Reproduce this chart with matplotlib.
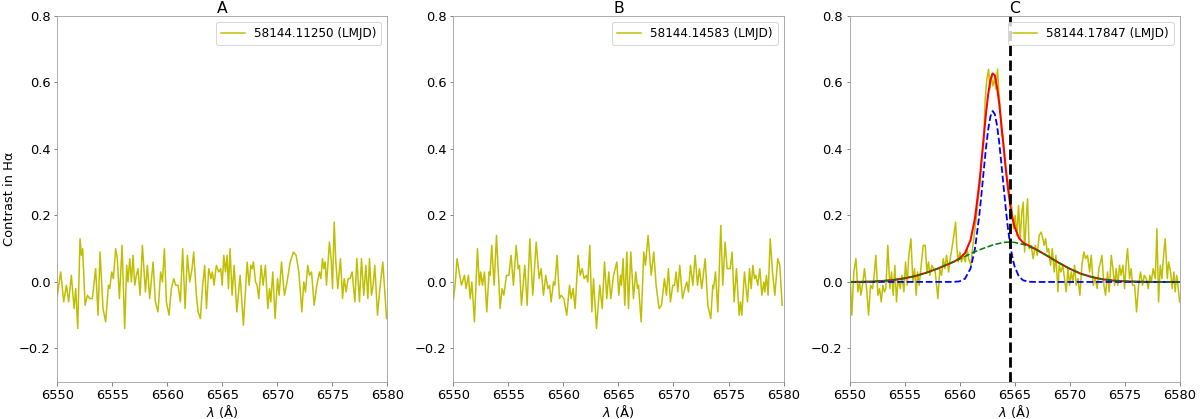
import numpy as np
import matplotlib
matplotlib.use("Agg")
import matplotlib.pyplot as plt

plt.rcParams['font.family'] = ['DejaVu Sans']
plt.rcParams['font.size'] = 13

# ---- observation A ----
wl_a = [6550.00, 6550.30, 6550.58, 6550.82, 6551.03, 6551.27, 6551.52, 6551.67, 6551.85, 6552.06,
        6552.18, 6552.30, 6552.52, 6552.73, 6552.94, 6553.18, 6553.48, 6553.70, 6553.88, 6554.15,
        6554.39, 6554.64, 6554.76, 6554.94, 6555.09, 6555.30, 6555.45, 6555.64, 6555.88, 6556.12,
        6556.30, 6556.42, 6556.58, 6556.73, 6556.88, 6557.03, 6557.18, 6557.33, 6557.52, 6557.73,
        6558.00, 6558.18, 6558.39, 6558.70, 6558.91, 6559.15, 6559.39, 6559.55, 6559.73, 6559.91,
        6560.15, 6560.36, 6560.58, 6560.76, 6560.97, 6561.18, 6561.39, 6561.61, 6561.82, 6562.03,
        6562.24, 6562.39, 6562.64, 6562.79, 6563.00, 6563.18, 6563.39, 6563.55, 6563.76, 6563.97,
        6564.09, 6564.24, 6564.45, 6564.67,
        6564.85, 6564.98, 6565.13, 6565.28, 6565.43, 6565.55, 6565.70, 6565.88, 6566.07, 6566.31,
        6566.61, 6566.91, 6567.25, 6567.43, 6567.58, 6567.70, 6567.82, 6568.01, 6568.16, 6568.31,
        6568.52, 6568.70, 6568.91, 6569.13, 6569.28, 6569.40, 6569.58, 6569.79, 6570.01, 6570.16,
        6570.37, 6570.64, 6570.88, 6571.16, 6571.46, 6571.70, 6571.95, 6572.22, 6572.40, 6572.55,
        6572.76, 6572.91, 6573.10, 6573.34, 6573.58, 6573.82, 6573.95, 6574.10, 6574.22, 6574.34,
        6574.46, 6574.73, 6574.88, 6575.01, 6575.16, 6575.31, 6575.49, 6575.73, 6575.92, 6576.07,
        6576.25, 6576.43, 6576.61, 6576.79, 6577.04, 6577.22, 6577.46, 6577.64, 6577.85, 6578.04,
        6578.22, 6578.37, 6578.55, 6578.70, 6578.85, 6579.10, 6579.28, 6579.58, 6579.92]
flux_a = [-0.04, 0.03, -0.06, -0.01, -0.06, 0.02, -0.08, -0.02, -0.14, 0.13,
          0.08, 0.10, -0.07, -0.04, -0.05, -0.05, 0.04, -0.10, 0.09, -0.08,
          -0.12, -0.01, -0.02, 0.03, 0.01, 0.10, 0.07, -0.05, 0.11, -0.14,
          0.05, 0.00, 0.07, 0.00, 0.08, -0.01, 0.02, 0.04, -0.04, 0.11,
          -0.03, 0.05, -0.05, 0.06, -0.06, -0.09, 0.03, 0.00, 0.10, -0.06,
          -0.10, -0.02, 0.01, -0.01, -0.01, -0.06, 0.10, -0.08, 0.08, 0.00,
          0.04, 0.09, -0.04, -0.09, -0.11, -0.02, 0.05, -0.08, 0.04, 0.01,
          0.03, -0.01, 0.05, 0.03,
          0.04, -0.01, 0.08, 0.03, 0.08, -0.02, 0.10, -0.04, 0.05, -0.09,
          0.02, -0.13, 0.06, -0.01, 0.05, 0.04, 0.06, 0.00, -0.01, -0.05,
          0.05, -0.01, 0.05, -0.08, -0.02, -0.06, 0.03, -0.11, 0.01, -0.04,
          0.06, -0.04, 0.00, 0.06, 0.09, 0.08, 0.03, -0.09, 0.00, -0.03,
          0.05, 0.02, 0.03, -0.07, -0.01, 0.03, 0.01, 0.07, 0.04, 0.06,
          -0.01, 0.12, 0.07, -0.02, 0.18, 0.06, -0.02, 0.07, -0.05, 0.01,
          -0.03, 0.01, 0.01, 0.03, -0.06, 0.07, -0.06, 0.07, -0.04, 0.05,
          -0.05, 0.07, -0.04, -0.01, 0.05, -0.10, -0.03, 0.06, -0.11]

# ---- observation B ----
wl_b = [6550.00, 6550.15, 6550.33, 6550.52, 6550.73, 6551.00, 6551.15, 6551.36, 6551.52, 6551.67,
        6551.91, 6552.18, 6552.36, 6552.48, 6552.64, 6552.82, 6553.03, 6553.24, 6553.33, 6553.48,
        6553.70, 6553.91, 6554.24, 6554.42, 6554.58, 6554.82, 6555.03, 6555.24, 6555.45, 6555.70,
        6555.88, 6556.00, 6556.18, 6556.48, 6556.70, 6556.94, 6557.21, 6557.52, 6557.79, 6557.97,
        6558.18, 6558.39, 6558.58, 6558.73, 6558.88, 6559.09, 6559.21, 6559.42, 6559.64, 6559.79,
        6560.03, 6560.30, 6560.55, 6560.70, 6560.88, 6561.06, 6561.33, 6561.52, 6561.70, 6561.88,
        6562.09, 6562.21, 6562.39, 6562.58, 6562.73, 6563.00, 6563.30, 6563.52, 6563.73, 6563.94,
        6564.12, 6564.30, 6564.55,
        6564.85, 6565.03, 6565.18, 6565.27, 6565.42, 6565.57, 6565.76, 6565.91, 6566.12, 6566.36,
        6566.57, 6566.73, 6566.82, 6567.06, 6567.30, 6567.45, 6567.69, 6567.97, 6568.21, 6568.42,
        6568.69, 6568.91, 6569.18, 6569.36, 6569.54, 6569.72, 6569.94, 6570.09, 6570.24, 6570.39,
        6570.57, 6570.82, 6571.03, 6571.21, 6571.36, 6571.54, 6571.76, 6571.97, 6572.18, 6572.36,
        6572.57, 6572.88, 6573.12, 6573.39, 6573.57, 6573.63, 6573.82, 6574.03, 6574.30, 6574.48,
        6574.69, 6574.88, 6575.15, 6575.33, 6575.51, 6575.72, 6575.97, 6576.09, 6576.21, 6576.45,
        6576.73, 6576.91, 6577.06, 6577.21, 6577.36, 6577.48, 6577.66, 6577.85, 6578.03, 6578.21,
        6578.30, 6578.45, 6578.60, 6578.79, 6579.00, 6579.21, 6579.48, 6579.66, 6579.88]
flux_b = [-0.05, -0.01, 0.07, 0.03, -0.01, 0.02, -0.02, 0.02, -0.05, 0.00,
          -0.12, 0.10, -0.01, 0.03, -0.01, 0.03, -0.09, 0.03, 0.02, 0.11,
          -0.01, 0.14, -0.08, -0.02, -0.04, 0.02, 0.02, 0.08, -0.01, 0.11,
          0.04, 0.05, -0.07, 0.05, -0.07, 0.13, -0.04, 0.12, 0.01, 0.04,
          -0.04, 0.02, -0.02, -0.01, -0.06, 0.00, -0.01, 0.08, -0.05, -0.04,
          -0.05, -0.10, -0.01, -0.05, -0.02, -0.08, 0.08, 0.02, 0.04, 0.01,
          0.02, 0.00, 0.11, -0.09, 0.01, -0.14, -0.01, -0.08, 0.06, -0.05,
          0.03, -0.05, 0.02,
          0.06, -0.04, 0.02, -0.01, 0.07, -0.07, 0.09, -0.08, 0.09, -0.05,
          0.03, -0.02, -0.01, -0.12, 0.09, 0.05, 0.14, 0.02, 0.09, -0.01,
          -0.08, -0.07, 0.01, -0.04, 0.04, -0.06, -0.01, -0.01, 0.03, -0.03,
          0.05, -0.05, -0.02, 0.00, -0.03, 0.05, -0.01, 0.08, -0.01, 0.04,
          -0.02, 0.07, -0.07, -0.11, -0.01, -0.02, 0.03, -0.09, 0.17, -0.01,
          0.12, 0.04, 0.04, 0.09, -0.06, 0.04, -0.10, -0.06, -0.10, 0.03,
          -0.06, 0.04, -0.02, 0.05, 0.01, 0.02, -0.01, 0.04, -0.04, 0.00,
          -0.03, 0.02, -0.04, 0.13, 0.03, -0.04, 0.07, 0.05, -0.07]

# ---- observation C ----
wl_c = [6550.03, 6550.21, 6550.39, 6550.58, 6550.76, 6550.91, 6551.03, 6551.18, 6551.36, 6551.55,
        6551.73, 6551.91, 6552.09, 6552.24, 6552.39, 6552.58, 6552.73, 6552.88, 6553.03, 6553.18,
        6553.30, 6553.48, 6553.67, 6553.82, 6553.97, 6554.12, 6554.27, 6554.42, 6554.61, 6554.76,
        6554.94, 6555.09, 6555.24, 6555.39, 6555.58, 6555.76, 6555.91, 6556.06, 6556.18, 6556.33,
        6556.48, 6556.70, 6556.88, 6557.03, 6557.18, 6557.30, 6557.48, 6557.64, 6557.79, 6557.94,
        6558.03, 6558.21, 6558.36, 6558.52, 6558.67, 6558.82, 6559.00, 6559.15, 6559.30, 6559.48,
        6559.64, 6559.76, 6559.88, 6560.03, 6560.18, 6560.33, 6560.52, 6560.67, 6560.82, 6561.03,
        6561.18, 6561.36, 6561.55, 6561.73, 6561.88, 6562.03, 6562.18, 6562.33, 6562.48, 6562.64,
        6562.76, 6562.88, 6563.03, 6563.18, 6563.30, 6563.45, 6563.58, 6563.70, 6563.82, 6563.94,
        6564.09, 6564.27, 6564.42, 6564.55,
        6564.76, 6564.91, 6565.06, 6565.21, 6565.36, 6565.51, 6565.66, 6565.79, 6565.91, 6566.06,
        6566.18, 6566.33, 6566.51, 6566.69, 6566.88, 6567.06, 6567.24, 6567.42, 6567.57, 6567.69,
        6567.82, 6567.97, 6568.09, 6568.27, 6568.42, 6568.60, 6568.76, 6568.94, 6569.06, 6569.21,
        6569.39, 6569.54, 6569.69, 6569.85, 6570.00, 6570.15, 6570.30, 6570.45, 6570.60, 6570.76,
        6570.94, 6571.12, 6571.30, 6571.45, 6571.63, 6571.82, 6571.97, 6572.15, 6572.33, 6572.51,
        6572.66, 6572.82, 6572.94, 6573.12, 6573.27, 6573.45, 6573.60, 6573.79, 6573.94, 6574.09,
        6574.24, 6574.39, 6574.54, 6574.69, 6574.85, 6575.00, 6575.15, 6575.27, 6575.45, 6575.60,
        6575.72, 6575.91, 6576.09, 6576.27, 6576.45, 6576.63, 6576.79, 6576.97, 6577.15, 6577.30,
        6577.42, 6577.60, 6577.79, 6577.94, 6578.09, 6578.24, 6578.39, 6578.57, 6578.69, 6578.88,
        6579.00, 6579.18, 6579.33, 6579.48, 6579.60, 6579.73, 6579.85, 6580.00]
flux_c = [0.04, -0.10, 0.03, 0.07, -0.03, 0.00, -0.04, -0.01, 0.04, -0.02,
          -0.10, -0.01, -0.02, 0.02, 0.08, -0.04, -0.02, -0.06, -0.01, -0.03,
          -0.02, 0.11, -0.02, 0.03, -0.04, 0.05, -0.06, 0.01, -0.02, 0.02,
          -0.03, 0.06, -0.01, 0.08, 0.13, 0.00, 0.04, -0.04, 0.03, -0.01,
          0.04, 0.11, 0.11, 0.03, 0.06, 0.02, 0.05, 0.04, 0.03, -0.02,
          -0.05, 0.04, 0.02, 0.07, 0.04, 0.08, 0.03, 0.07, 0.10, 0.14,
          0.18, 0.10, 0.06, 0.09, 0.06, 0.08, 0.06, 0.10, 0.07, 0.05,
          0.10, 0.15, 0.20, 0.26, 0.30, 0.38, 0.41, 0.55, 0.61, 0.64,
          0.58, 0.62, 0.59, 0.61, 0.58, 0.64, 0.57, 0.52, 0.44, 0.44,
          0.38, 0.32, 0.30, 0.26,
          0.22, 0.16, 0.20, 0.14, 0.23, 0.13, 0.21, 0.24, 0.09, 0.19,
          0.25, 0.10, 0.11, 0.07, 0.11, 0.08, 0.14, 0.15, 0.13, 0.11,
          0.13, 0.09, 0.10, 0.05, 0.10, 0.03, 0.08, -0.03, 0.05, 0.03,
          0.05, 0.01, -0.03, 0.04, -0.01, 0.03, 0.00, 0.05, -0.01, 0.01,
          -0.04, 0.05, 0.09, 0.07, 0.08, 0.03, 0.08, -0.01, 0.01, -0.02,
          0.04, 0.06, 0.08, -0.01, -0.04, 0.03, -0.03, 0.08, 0.04, -0.01,
          0.04, -0.01, 0.05, 0.02, 0.05, -0.02, 0.06, 0.10, 0.01, 0.04,
          -0.01, -0.01, -0.09, -0.01, 0.03, -0.01, 0.02, 0.01, -0.02, 0.02,
          0.00, 0.04, 0.01, 0.16, -0.06, 0.05, 0.01, 0.09, 0.13, 0.01,
          0.06, 0.03, -0.02, 0.03, -0.03, 0.02, -0.01, -0.06]

# ---- fit components for C ----
fit_wl = [6550, 6551, 6552, 6553, 6554, 6555, 6556, 6557, 6558, 6559,
          6559.5, 6560.0, 6560.5, 6561.0, 6561.4, 6561.8, 6562.0, 6562.2, 6562.4, 6562.6,
          6562.8, 6563.0, 6563.2, 6563.4, 6563.6, 6563.8, 6564.0, 6564.2, 6564.4, 6564.6,
          6564.8, 6565.0, 6565.4, 6565.8, 6566.4, 6567.0, 6568, 6569, 6570, 6571,
          6572, 6573, 6574, 6575, 6576, 6577, 6578, 6580]
fit_total = [0.0, 0.0005, 0.001, 0.003, 0.006, 0.011, 0.018, 0.028, 0.040, 0.054,
             0.061, 0.071, 0.087, 0.126, 0.191, 0.298, 0.366, 0.437, 0.506, 0.564,
             0.606, 0.627, 0.622, 0.587, 0.538, 0.474, 0.407, 0.341, 0.281, 0.232,
             0.194, 0.166, 0.132, 0.1175, 0.1075, 0.097, 0.078, 0.058, 0.040, 0.025,
             0.015, 0.008, 0.004, 0.002, 0.001, 0.0003, 0.0, 0.0]

narrow_wl = [6550, 6559.5, 6560.0, 6560.5, 6561.0, 6561.4, 6561.8, 6562.0, 6562.2, 6562.4,
             6562.6, 6562.8, 6563.0, 6563.2, 6563.4, 6563.6, 6563.8, 6564.0, 6564.2, 6564.4,
             6564.6, 6564.8, 6565.0, 6565.4, 6565.8, 6566.4, 6567.0, 6580]
narrow = [0.0, 0.0002, 0.0018, 0.0099, 0.0405, 0.0997, 0.202, 0.267, 0.336, 0.402,
          0.458, 0.497, 0.514, 0.505, 0.472, 0.421, 0.356, 0.288, 0.221, 0.161,
          0.112, 0.0743, 0.0468, 0.0160, 0.0045, 0.0005, 0.0, 0.0]

broad_wl = [6550, 6551, 6552, 6553, 6554, 6555, 6556, 6557, 6558, 6559,
            6560, 6561, 6562, 6563, 6564, 6564.6, 6565, 6566, 6567, 6568,
            6569, 6570, 6571, 6572, 6573, 6574, 6575, 6576, 6577, 6578, 6580]
broad = [0.0, 0.0005, 0.001, 0.003, 0.006, 0.011, 0.018, 0.028, 0.040, 0.054,
         0.069, 0.085, 0.099, 0.111, 0.119, 0.120, 0.119, 0.111, 0.097, 0.078,
         0.058, 0.040, 0.025, 0.015, 0.008, 0.004, 0.002, 0.001, 0.0003, 0.0, 0.0]

halpha = 6564.61
titles = ["A", "B", "C"]
dates = ["58144.11250 (LMJD)", "58144.14583 (LMJD)", "58144.17847 (LMJD)"]
yticks = [-0.2, 0.0, 0.2, 0.4, 0.6, 0.8]
xticks = [6550, 6555, 6560, 6565, 6570, 6575, 6580]

DPI = 72
fig, axes = plt.subplots(1, 3, figsize=(1200 / DPI, 419 / DPI), dpi=DPI)
fig.subplots_adjust(left=0.0478, right=0.983, top=0.962, bottom=0.089, wspace=0.2)

spectra = [(wl_a, flux_a), (wl_b, flux_b), (wl_c, flux_c)]
for i, ax in enumerate(axes):
    wl, fl = spectra[i]
    ax.plot(wl, fl, color='y', lw=1.5, label=dates[i])
    if i == 2:
        ax.plot(fit_wl, fit_total, color='red', lw=2)
        ax.plot(narrow_wl, narrow, color='blue', lw=1.8, ls='--')
        ax.plot(broad_wl, broad, color='green', lw=1.6, ls='--')
        ax.axvline(halpha, color='black', lw=2.8, ls='--')
    ax.set_xlim(6550, 6580)
    ax.set_ylim(-0.3, 0.8)
    ax.set_xticks(xticks)
    ax.set_yticks(yticks)
    ax.set_title(titles[i], pad=3)
    ax.set_xlabel(r"$\lambda$ (Å)", labelpad=1)
    for sp in ax.spines.values():
        sp.set_color('0.6')
    ax.tick_params(color='0.4')
    ax.legend(loc='upper right', fontsize=12)

axes[0].set_ylabel("Contrast in Hα", labelpad=3)

fig.savefig("out.png", dpi=DPI)
